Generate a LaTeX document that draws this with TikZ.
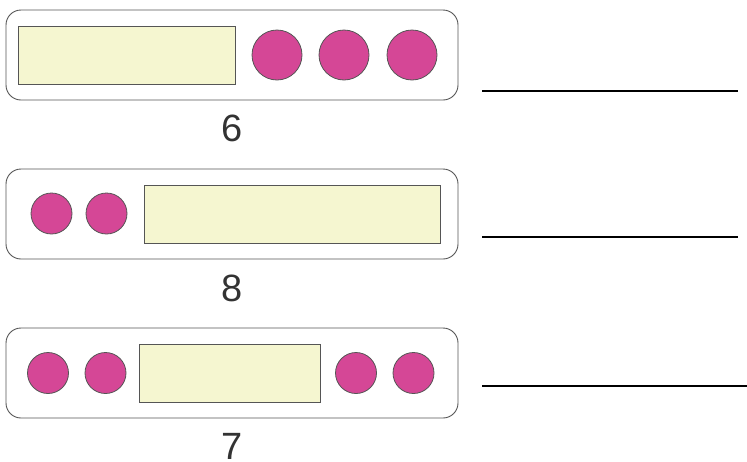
\documentclass[tikz,border=0pt]{standalone}
\usepackage{fontspec}
\setmainfont{Liberation Sans}
\definecolor{dotpink}{RGB}{213,71,150}
\definecolor{barfill}{RGB}{245,246,208}
\definecolor{edgegray}{RGB}{85,85,85}
\definecolor{numgray}{RGB}{51,51,51}
\begin{document}
\begin{tikzpicture}[x=1pt,y=-1pt,
  frame/.style={draw=edgegray,line width=0.9pt,rounded corners=15pt},
  bar/.style={draw=edgegray,fill=barfill,line width=0.9pt},
  bigdot/.style={circle,draw=edgegray,fill=dotpink,line width=0.8pt,minimum size=50pt,inner sep=0pt},
  smalldot/.style={circle,draw=edgegray,fill=dotpink,line width=0.8pt,minimum size=41pt,inner sep=0pt},
  num/.style={font=\fontsize{38}{38}\selectfont,text=numgray,inner sep=0pt},
  blank/.style={draw=black,line width=2pt}]
\useasboundingbox (0,0) rectangle (747,461);
% row 1
\draw[frame] (6,10) rectangle (458,100);
\draw[bar] (18,26) rectangle (235,84);
\node[bigdot] (a1) at (277,55) {};
\node[bigdot] (a2) at (344,55) {};
\node[bigdot] (a3) at (412,55) {};
\node[num] (n1) at (232,128) {6};
\draw[blank] (482,91) -- (738,91);
% row 2
\draw[frame] (6,169) rectangle (458,259);
\node[smalldot] (b1) at (51.5,213.5) {};
\node[smalldot] (b2) at (106.5,213.5) {};
\draw[bar] (144,185) rectangle (440,243);
\node[num] (n2) at (232,288.5) {8};
\draw[blank] (482,237) -- (738,237);
% row 3
\draw[frame] (6,328) rectangle (458,418);
\node[smalldot] (c1) at (48,373) {};
\node[smalldot] (c2) at (105.5,373) {};
\draw[bar] (139,344) rectangle (320,402);
\node[smalldot] (c3) at (356,373) {};
\node[smalldot] (c4) at (413.5,373) {};
\node[num] (n3) at (232,446) {7};
\draw[blank] (482,386) -- (747,386);
\end{tikzpicture}
\end{document}
